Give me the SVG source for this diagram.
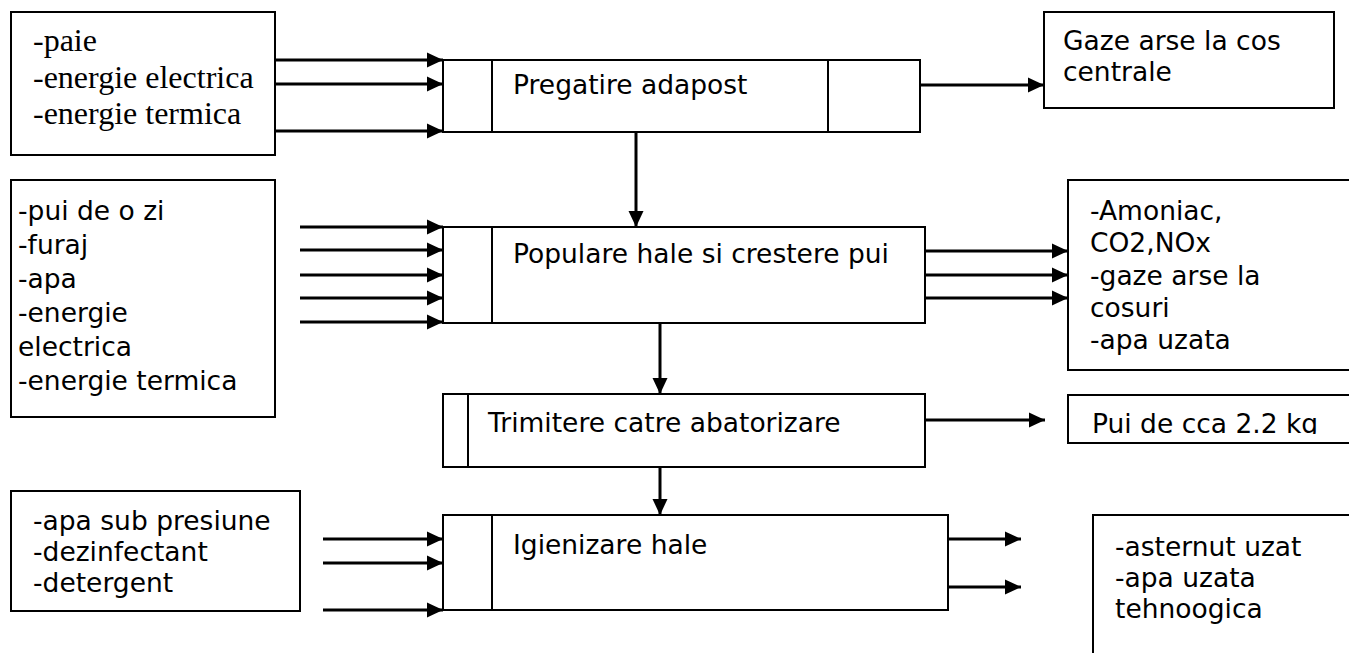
<svg xmlns="http://www.w3.org/2000/svg" width="1349" height="653" viewBox="0 0 1349 653">
  <defs>
    <marker id="arrow" markerUnits="userSpaceOnUse" markerWidth="16" markerHeight="16" refX="16" refY="8" orient="auto">
      <path d="M0,0.5 L16,8 L0,15.5 Z" fill="#000"/>
    </marker>
    <clipPath id="clipPui">
      <rect x="1068" y="395" width="290" height="39"/>
    </clipPath>
    <style>
      .box { fill: #fff; stroke: #000; stroke-width: 2; }
      .div { stroke: #000; stroke-width: 2; }
      .serif { font-family: "Liberation Serif", "Times New Roman", serif; font-size: 32px; fill: #000; }
      .sans { font-family: "DejaVu Sans", Verdana, sans-serif; font-size: 26.5px; fill: #000; }
      .flow { stroke: #000; stroke-width: 3; fill: none; marker-end: url(#arrow); }
    </style>
  </defs>

  <!-- inputs: preparation -->
  <g id="in-pregatire">
    <rect class="box" x="11" y="12" width="264" height="143"/>
    <text class="serif" x="33" y="51">-paie</text>
    <text class="serif" x="33" y="88">-energie electrica</text>
    <text class="serif" x="33" y="124">-energie termica</text>
  </g>

  <!-- process: preparation -->
  <g id="pregatire">
    <rect class="box" x="443" y="60" width="477" height="72"/>
    <line class="div" x1="492" y1="60" x2="492" y2="132"/>
    <line class="div" x1="828" y1="60" x2="828" y2="132"/>
    <text class="sans" x="513" y="94">Pregatire adapost</text>
  </g>

  <!-- output: flue gas -->
  <g id="out-gaze">
    <rect class="box" x="1044" y="12" width="290" height="96"/>
    <text class="sans" x="1063" y="50">Gaze arse la cos</text>
    <text class="sans" x="1063" y="81">centrale</text>
  </g>

  <!-- inputs: growing -->
  <g id="in-populare">
    <rect class="box" x="11" y="180" width="264" height="237"/>
    <text class="sans" x="18" y="220">-pui de o zi</text>
    <text class="sans" x="18" y="254">-furaj</text>
    <text class="sans" x="18" y="288">-apa</text>
    <text class="sans" x="18" y="322">-energie</text>
    <text class="sans" x="18" y="356">electrica</text>
    <text class="sans" x="18" y="390">-energie termica</text>
  </g>

  <!-- process: growing -->
  <g id="populare">
    <rect class="box" x="443" y="227" width="482" height="96"/>
    <line class="div" x1="492" y1="227" x2="492" y2="323"/>
    <text class="sans" x="513" y="263">Populare hale si crestere pui</text>
  </g>

  <!-- output: emissions -->
  <g id="out-populare">
    <rect class="box" x="1068" y="180" width="300" height="190"/>
    <text class="sans" x="1090" y="220">-Amoniac,</text>
    <text class="sans" x="1090" y="252">CO2,NOx</text>
    <text class="sans" x="1090" y="285">-gaze arse la</text>
    <text class="sans" x="1090" y="317">cosuri</text>
    <text class="sans" x="1090" y="349">-apa uzata</text>
  </g>

  <!-- process: dispatch -->
  <g id="trimitere">
    <rect class="box" x="443" y="394" width="482" height="73"/>
    <line class="div" x1="468" y1="394" x2="468" y2="467"/>
    <text class="sans" x="488" y="432">Trimitere catre abatorizare</text>
  </g>

  <!-- output: birds -->
  <g id="out-pui">
    <rect class="box" x="1068" y="395" width="300" height="48"/>
    <text class="sans" x="1092" y="433" clip-path="url(#clipPui)">Pui de cca 2.2 kg</text>
  </g>

  <!-- inputs: sanitation -->
  <g id="in-igienizare">
    <rect class="box" x="11" y="491" width="289" height="120"/>
    <text class="sans" x="33" y="530">-apa sub presiune</text>
    <text class="sans" x="33" y="561">-dezinfectant</text>
    <text class="sans" x="33" y="592">-detergent</text>
  </g>

  <!-- process: sanitation -->
  <g id="igienizare">
    <rect class="box" x="443" y="515" width="505" height="95"/>
    <line class="div" x1="492" y1="515" x2="492" y2="610"/>
    <text class="sans" x="513" y="554">Igienizare hale</text>
  </g>

  <!-- output: waste -->
  <g id="out-igienizare">
    <rect class="box" x="1093" y="515" width="300" height="160"/>
    <text class="sans" x="1115" y="556">-asternut uzat</text>
    <text class="sans" x="1115" y="587">-apa uzata</text>
    <text class="sans" x="1115" y="618">tehnoogica</text>
  </g>

  <g id="connectors">
    <line class="flow" x1="276" y1="60" x2="443" y2="60"/>
    <line class="flow" x1="276" y1="84" x2="443" y2="84"/>
    <line class="flow" x1="276" y1="131" x2="443" y2="131"/>
    <line class="flow" x1="920" y1="85" x2="1044" y2="85"/>
    <line class="flow" x1="636" y1="132" x2="636" y2="227"/>

    <line class="flow" x1="300" y1="227" x2="443" y2="227"/>
    <line class="flow" x1="300" y1="250" x2="443" y2="250"/>
    <line class="flow" x1="300" y1="275" x2="443" y2="275"/>
    <line class="flow" x1="300" y1="298" x2="443" y2="298"/>
    <line class="flow" x1="300" y1="322" x2="443" y2="322"/>
    <line class="flow" x1="925" y1="251" x2="1068" y2="251"/>
    <line class="flow" x1="925" y1="275" x2="1068" y2="275"/>
    <line class="flow" x1="925" y1="298" x2="1068" y2="298"/>
    <line class="flow" x1="660" y1="323" x2="660" y2="394"/>

    <line class="flow" x1="925" y1="420" x2="1045" y2="420"/>
    <line class="flow" x1="660" y1="467" x2="660" y2="515"/>

    <line class="flow" x1="323" y1="539" x2="443" y2="539"/>
    <line class="flow" x1="323" y1="563" x2="443" y2="563"/>
    <line class="flow" x1="323" y1="610" x2="443" y2="610"/>
    <line class="flow" x1="948" y1="539" x2="1021" y2="539"/>
    <line class="flow" x1="948" y1="587" x2="1021" y2="587"/>
  </g>
</svg>
